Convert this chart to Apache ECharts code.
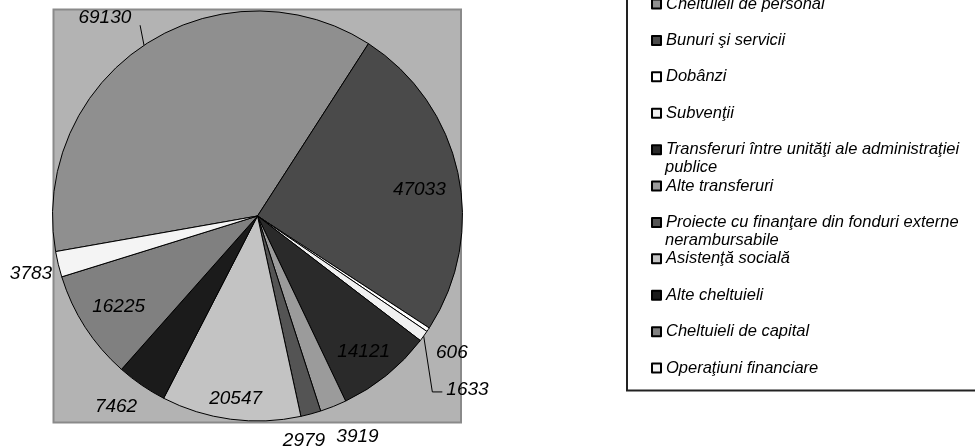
<!DOCTYPE html>
<html><head><meta charset="utf-8">
<script src="https://cdn.jsdelivr.net/npm/echarts@6/dist/echarts.min.js"></script>
<style>html,body{margin:0;padding:0;background:#fff}#c{width:975px;height:448px}</style>
</head><body><div id="c"></div>
<script>
// ---- data ----
const categories = [
  'Cheltuieli de personal',
  'Bunuri şi servicii',
  'Dobânzi',
  'Subvenţii',
  'Transferuri între unităţi ale administraţiei\npublice',
  'Alte transferuri',
  'Proiecte cu finanţare din fonduri externe\nnerambursabile',
  'Asistenţă socială',
  'Alte cheltuieli',
  'Cheltuieli de capital',
  'Operaţiuni financiare'
];
const values = [69130, 47033, 606, 1633, 14121, 3919, 2979, 20547, 7462, 16225, 3783];

// ---- style ----
const colors = ['#8f8f8f', '#4a4a4a', '#ffffff', '#f0f0f0', '#2a2a2a', '#9b9b9b',
                '#545454', '#c3c3c3', '#1b1b1b', '#808080', '#f4f4f4'];
const labelRadius = [1.22, 0.80, 1.16, 1.33, 0.84, 1.18, 1.12, 0.90, 1.16, 0.81, 1.14];
const labelShift  = [4, -2.7, -1.5, -3.8, -1, 2.7, -3.4, 0.7, -2.1, 0.4, 0.6];
const showLine    = [true, false, false, true, false, false, false, false, false, false, false];

const CX = 257.5, CY = 216, R = 205, START = 190;
const total = values.reduce((a, b) => a + b, 0);
const midAngles = [];
(function () {
  let acc = 0;
  values.forEach(v => {
    midAngles.push(START - (acc + v / 2) / total * 360);
    acc += v;
  });
})();
function polar(r, deg) {
  const a = deg * Math.PI / 180;
  return [CX + r * Math.cos(a), CY - r * Math.sin(a)];
}

const FS = 16.5, SLOT = 36.3, ITEM_H = FS + 0.4;
const legendFont = {
  fontFamily: 'Liberation Sans', fontStyle: 'italic', fontSize: FS, color: '#000'
};
const wrapped = categories.filter(n => n.indexOf('\n') >= 0);

const chart = echarts.init(document.getElementById('c'), null, {renderer: 'canvas'});
chart.setOption({
  animation: false,
  backgroundColor: '#ffffff',
  graphic: [{
    type: 'rect', z: 0,
    shape: {x: 53.5, y: 9.5, width: 407.5, height: 413},
    style: {fill: '#b3b3b3', stroke: '#8a8a8a', lineWidth: 2}
  }],
  legend: [{
    orient: 'vertical',
    left: 627, top: 4 - ITEM_H / 2 - 15,
    padding: [15, 30, 14, 24],
    itemGap: SLOT - ITEM_H,
    itemWidth: 9, itemHeight: 9,
    icon: 'rect',
    borderColor: '#222', borderWidth: 2,
    backgroundColor: '#fff',
    selectedMode: false,
    textStyle: legendFont,
    formatter: name => name.split('\n')[0],
    data: categories
  }, {
    // continuation lines of the two wrapped legend entries
    orient: 'vertical',
    left: 627, top: 4 + 4 * SLOT + 18 - ITEM_H / 2 - 15,
    padding: [15, 30, 15, 24],
    itemGap: 2 * SLOT - ITEM_H,
    itemWidth: 9, itemHeight: 9,
    icon: 'none',
    selectedMode: false,
    textStyle: legendFont,
    formatter: name => name.split('\n').slice(1).join(' '),
    data: wrapped,
    z: 5
  }],
  series: [{
    type: 'pie',
    center: [CX, CY],
    radius: R,
    startAngle: START,
    clockwise: true,
    avoidLabelOverlap: false,
    silent: true,
    itemStyle: {borderColor: '#000', borderWidth: 1},
    label: {
      show: true, position: 'outside',
      fontFamily: 'Liberation Sans', fontStyle: 'italic', fontSize: 19, color: '#000',
      formatter: p => String(p.value)
    },
    labelLine: {show: true, lineStyle: {color: '#000', width: 1}},
    emphasis: {disabled: true},
    data: categories.map((name, i) => ({
      name, value: values[i],
      itemStyle: {color: colors[i]},
      labelLine: {show: showLine[i]}
    })),
    labelLayout: function (params) {
      const i = params.dataIndex;
      const ang = midAngles[i] + labelShift[i];
      const p = polar(labelRadius[i] * R, ang);
      const out = {x: p[0], y: p[1], align: 'center', verticalAlign: 'middle'};
      if (showLine[i]) {
        const e = polar(R, midAngles[i]);
        if (i === 0) {
          out.labelLinePoints = [e, polar(R + 19, midAngles[i] - 2)];
        } else {
          const hw = params.labelRect.width / 2;
          const y2 = p[1] + 2;
          out.labelLinePoints = [e, [p[0] - hw - 14, y2], [p[0] - hw - 4, y2]];
        }
      }
      return out;
    }
  }]
});
</script></body></html>
